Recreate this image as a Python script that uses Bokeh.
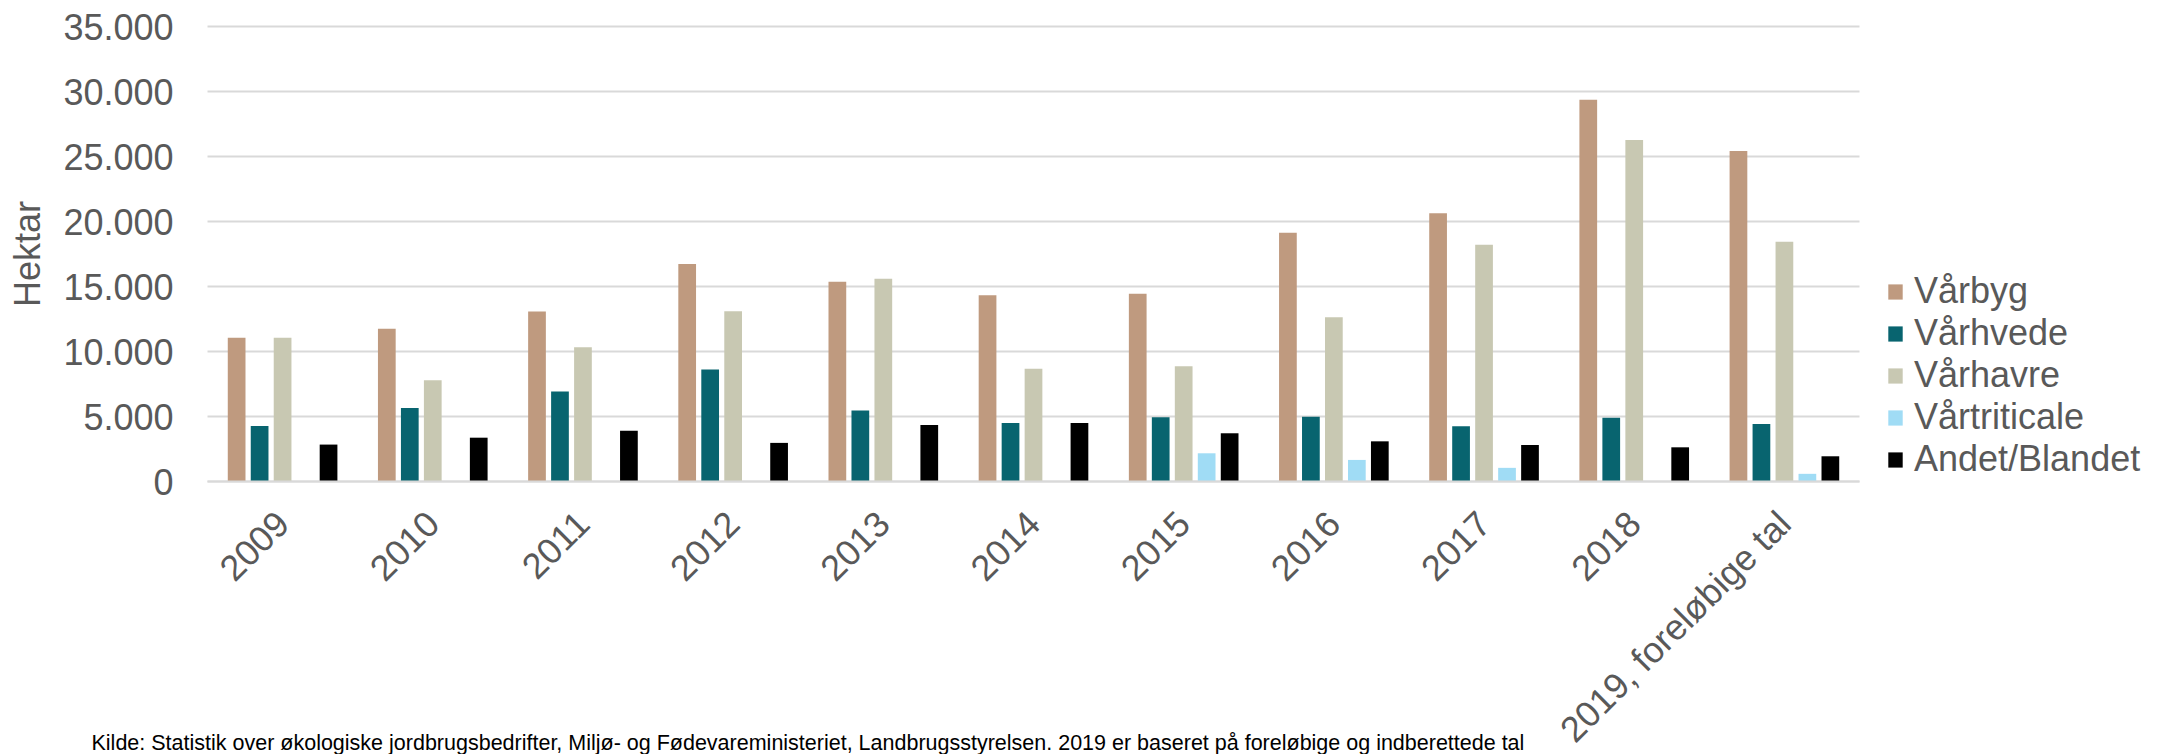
import math
from bokeh.plotting import figure
from bokeh.models import (Range1d, FixedTicker, CustomJSTickFormatter, LinearAxis, Grid,
                          Legend, LegendItem, Label, ColumnDataSource)
from bokeh.embed import file_html
from bokeh.resources import INLINE

years = ["2009", "2010", "2011", "2012", "2013", "2014", "2015", "2016", "2017", "2018",
         "2019, foreløbige tal"]
series_names = ["Vårbyg", "Vårhvede", "Vårhavre", "Vårtriticale", "Andet/Blandet"]
varbyg = [11060, 11750, 13080, 16730, 15370, 14320, 14450, 19130, 20640, 29360, 25420]
varhvede = [4270, 5650, 6920, 8620, 5470, 4500, 4940, 4990, 4250, 4900, 4420]
varhavre = [11060, 7790, 10320, 13090, 15600, 8670, 8870, 12630, 18210, 26260, 18450]
vartriticale = [0, 0, 0, 0, 0, 0, 2170, 1660, 1050, 0, 590]
andet = [2840, 3370, 3910, 2970, 4350, 4500, 3710, 3090, 2810, 2630, 1940]
y_ticks = [0, 5000, 10000, 15000, 20000, 25000, 30000, 35000]
colors = ["#BF9A7F", "#08646F", "#C8C8B2", "#A0DCF5", "#000000"]
note = ("Kilde: Statistik over økologiske jordbrugsbedrifter, Miljø- og Fødevareministeriet, "
        "Landbrugsstyrelsen. 2019 er baseret på foreløbige og indberettede tal")

FONT = "Liberation Sans"
GREY = "#595959"

W, H = 2169, 754
# plotting area inside the canvas (pixels)
left_px, right_px, top_px, bottom_px = 207, 1859, 26, 481
ymax = y_ticks[-1]
n = len(years)
px_per_cat = (right_px - left_px) / n
px_per_unit = (bottom_px - top_px) / ymax
x_start = -0.5 - left_px / px_per_cat
x_end = -0.5 + (W - left_px) / px_per_cat
y_end = ymax + top_px / px_per_unit
y_start = -(H - bottom_px) / px_per_unit

idx = list(range(n))
slot = 0.153
bw = 0.118
src = ColumnDataSource(dict(
    x0=[i - 2 * slot for i in idx], x1=[i - slot for i in idx], x2=idx,
    x3=[i + slot for i in idx], x4=[i + 2 * slot for i in idx],
    s0=varbyg, s1=varhvede, s2=varhavre, s3=vartriticale, s4=andet))

p = figure(width=W, height=H, x_range=Range1d(x_start, x_end), y_range=Range1d(y_start, y_end),
           output_backend="svg", toolbar_location=None,
           x_axis_location=None, y_axis_location=None,
           min_border_left=0, min_border_right=0, min_border_top=0, min_border_bottom=0)
p.outline_line_color = None
p.background_fill_color = "white"

renderers = []
for k, name in enumerate(series_names):
    r = p.vbar(x="x%d" % k, top="s%d" % k, bottom=0, width=bw, source=src,
               fill_color=colors[k], line_color=None)
    renderers.append(r)

# y axis
ya = LinearAxis(fixed_location=-0.5, bounds=(0, ymax))
ya.ticker = FixedTicker(ticks=y_ticks)
ya.formatter = CustomJSTickFormatter(
    code="return Math.round(tick).toString().replace(/\\B(?=(\\d{3})+(?!\\d))/g, '.');")
ya.axis_line_color = None
ya.major_tick_line_color = None
ya.minor_tick_line_color = None
ya.major_tick_out = 0
ya.major_tick_in = 0
ya.major_label_standoff = 34
ya.major_label_text_font = FONT
ya.major_label_text_font_size = "36px"
ya.major_label_text_color = GREY
ya.axis_label = "Hektar"
ya.axis_label_text_font = FONT
ya.axis_label_text_font_size = "36px"
ya.axis_label_text_font_style = "normal"
ya.axis_label_text_color = GREY
ya.axis_label_standoff = 12
p.add_layout(ya, "left")

# x axis
xa = LinearAxis(fixed_location=0, bounds=(-0.5, n - 0.5))
xa.ticker = FixedTicker(ticks=idx)
xa.major_label_overrides = {i: years[i] for i in idx}
xa.axis_line_color = "#D9D9D9"
xa.axis_line_width = 2
xa.major_tick_line_color = None
xa.minor_tick_line_color = None
xa.major_tick_out = 0
xa.major_tick_in = 0
xa.major_label_orientation = math.pi / 4
xa.major_label_standoff = 36
xa.major_label_text_font = FONT
xa.major_label_text_font_size = "36px"
xa.major_label_text_color = GREY
p.add_layout(xa, "below")

p.xgrid.visible = False
p.ygrid.visible = False
g = Grid(dimension=1, ticker=FixedTicker(ticks=y_ticks), cross_bounds=(-0.5, n - 0.5),
         grid_line_color="#D9D9D9", grid_line_width=2)
p.add_layout(g)

legend = Legend(items=[LegendItem(label=nm, renderers=[r]) for nm, r in zip(series_names, renderers)],
                location=(1886, H - 480))
legend.glyph_width = 18
legend.glyph_height = 19
legend.label_height = 42
legend.label_standoff = 10
legend.spacing = 0
legend.padding = 0
legend.margin = 0
legend.border_line_color = None
legend.background_fill_alpha = 0
legend.label_text_font = FONT
legend.label_text_font_size = "36px"
legend.label_text_color = GREY
legend.label_text_baseline = "middle"
p.add_layout(legend, "center")

lab = Label(x=91, y=12, x_units="screen", y_units="screen", text=note,
            text_font="'Liberation Sans Narrow', 'Liberation Sans', Arial",
            text_font_size="21.5px", text_color="black", text_baseline="middle")
p.add_layout(lab)

open("out.html", "w").write(file_html(p, INLINE))
